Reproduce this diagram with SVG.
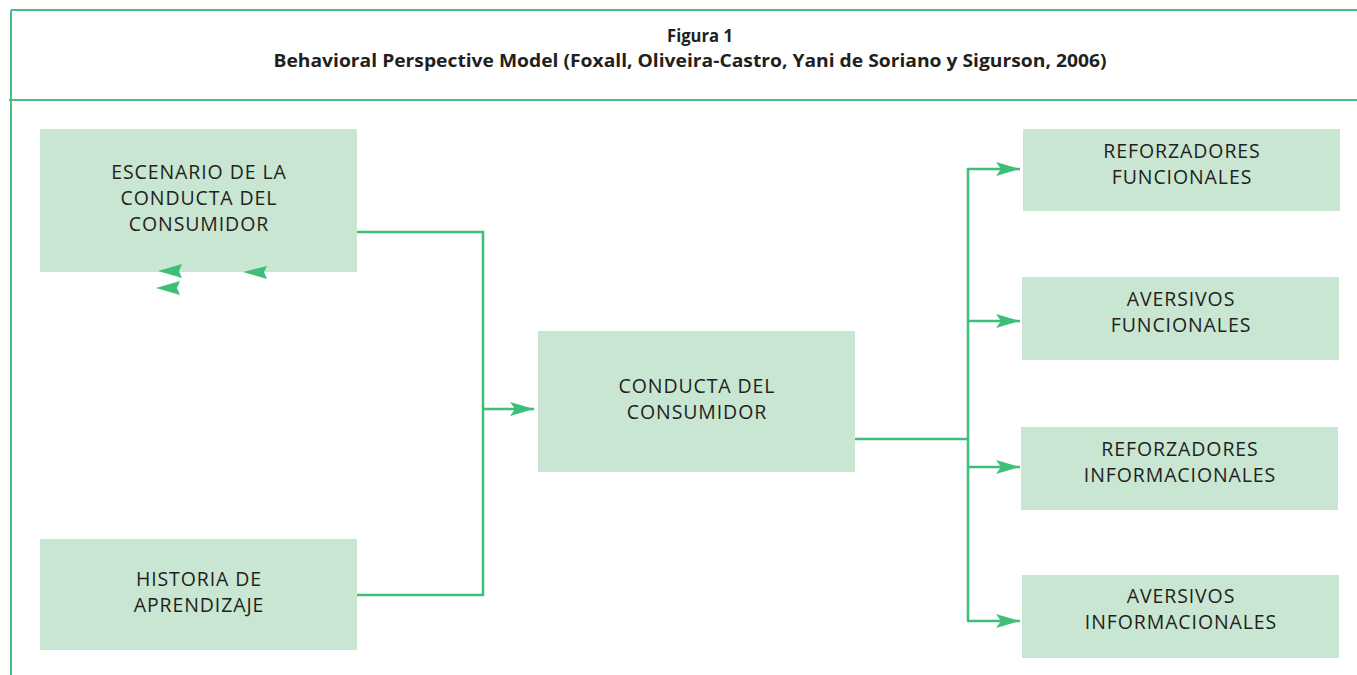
<svg xmlns="http://www.w3.org/2000/svg" width="1357" height="675" viewBox="0 0 1357 675">
  <style>
    .frame { stroke: #46c082; stroke-width: 2; fill: none; }
    .box { fill: #c8e6d1; }
    .lbl { font-family: "Open Sans", "Liberation Sans", sans-serif; font-size: 19.5px; letter-spacing: 0.9px; fill: #231f20; text-anchor: middle; }
    .ttl { font-family: "Open Sans", "Liberation Sans", sans-serif; font-size: 17px; font-weight: bold; fill: #231f20; text-anchor: middle; }
    .wire { stroke: #3dbf78; stroke-width: 2.5; fill: none; }
    .head { fill: #3dbf78; }
  </style>
  <defs>
    <marker id="arrow" viewBox="0 0 24 14" refX="24" refY="7" markerWidth="24" markerHeight="14" markerUnits="userSpaceOnUse" orient="auto">
      <path d="M0,0 L24,7 L0,14 L5,7 Z" fill="#3dbf78"/>
    </marker>
  </defs>

  <rect width="1357" height="675" fill="#ffffff"/>

  <!-- frame and header rule -->
  <g id="frame">
    <line class="frame" x1="11" y1="10" x2="1357" y2="10"/>
    <line class="frame" x1="11" y1="10" x2="11" y2="675"/>
    <line class="frame" x1="9" y1="100" x2="1357" y2="100" stroke-width="2.5"/>
  </g>

  <g id="title">
    <text class="ttl" x="700" y="42" textLength="66" lengthAdjust="spacingAndGlyphs">Figura 1</text>
    <text class="ttl" x="690" y="67" textLength="833" lengthAdjust="spacingAndGlyphs">Behavioral Perspective Model (Foxall, Oliveira-Castro, Yani de Soriano y Sigurson, 2006)</text>
  </g>

  <g id="escenario">
    <rect class="box" x="40" y="129" width="317" height="143"/>
    <text class="lbl" x="199" y="179">ESCENARIO DE LA</text>
    <text class="lbl" x="199" y="205">CONDUCTA DEL</text>
    <text class="lbl" x="199" y="231">CONSUMIDOR</text>
  </g>

  <g id="historia">
    <rect class="box" x="40" y="539" width="317" height="111"/>
    <text class="lbl" x="199" y="586">HISTORIA DE</text>
    <text class="lbl" x="199" y="612">APRENDIZAJE</text>
  </g>

  <g id="conducta">
    <rect class="box" x="538" y="331" width="317" height="141"/>
    <text class="lbl" x="697" y="393">CONDUCTA DEL</text>
    <text class="lbl" x="697" y="419">CONSUMIDOR</text>
  </g>

  <g id="ref-funcionales">
    <rect class="box" x="1023" y="129" width="317" height="82"/>
    <text class="lbl" x="1182" y="158">REFORZADORES</text>
    <text class="lbl" x="1182" y="184">FUNCIONALES</text>
  </g>

  <g id="av-funcionales">
    <rect class="box" x="1022" y="277" width="317" height="83"/>
    <text class="lbl" x="1181" y="306">AVERSIVOS</text>
    <text class="lbl" x="1181" y="332">FUNCIONALES</text>
  </g>

  <g id="ref-informacionales">
    <rect class="box" x="1021" y="427" width="317" height="83"/>
    <text class="lbl" x="1180" y="456">REFORZADORES</text>
    <text class="lbl" x="1180" y="482">INFORMACIONALES</text>
  </g>

  <g id="av-informacionales">
    <rect class="box" x="1022" y="575" width="317" height="83"/>
    <text class="lbl" x="1181" y="603">AVERSIVOS</text>
    <text class="lbl" x="1181" y="629">INFORMACIONALES</text>
  </g>

  <g id="connectors">
    <!-- inputs merging into the behaviour box -->
    <polyline class="wire" points="357,232 483,232 483,595 357,595"/>
    <line class="wire" x1="483" y1="409" x2="534" y2="409" marker-end="url(#arrow)"/>
    <!-- consequences branching out -->
    <polyline class="wire" points="855,439 968,439"/>
    <line class="wire" x1="968" y1="168" x2="968" y2="622"/>
    <line class="wire" x1="968" y1="169" x2="1020" y2="169" marker-end="url(#arrow)"/>
    <line class="wire" x1="968" y1="321" x2="1020" y2="321" marker-end="url(#arrow)"/>
    <line class="wire" x1="968" y1="467" x2="1020" y2="467" marker-end="url(#arrow)"/>
    <line class="wire" x1="968" y1="621" x2="1020" y2="621" marker-end="url(#arrow)"/>
    <!-- loose arrowheads under the setting box -->
    <path class="head" d="M158,271 L182,264 L179,271 L182,278 Z"/>
    <path class="head" d="M243,272 L267,266 L264,272 L267,279 Z"/>
    <path class="head" d="M156,288 L180,281 L177,288 L180,295 Z"/>
  </g>
</svg>
